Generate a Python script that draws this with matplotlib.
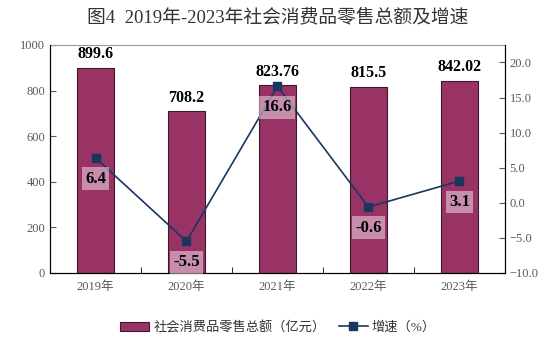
import matplotlib.pyplot as plt
import numpy as np

plt.rcParams["font.family"] = ["Liberation Serif", "Noto Sans CJK SC", "DejaVu Sans"]

years = ["2019年", "2020年", "2021年", "2022年", "2023年"]
sales = [899.6, 708.2, 823.76, 815.5, 842.02]
sales_labels = ["899.6", "708.2", "823.76", "815.5", "842.02"]
growth = [6.4, -5.5, 16.6, -0.6, 3.1]

bar_color = "#993366"
line_color = "#17375e"
tick_color = "#595959"

fig = plt.figure(figsize=(5.56, 3.54), dpi=100)
ax = fig.add_axes([0.090, 0.229, 0.818, 0.644])
x = np.arange(len(years))

ax.bar(x, sales, width=0.4, color=bar_color, edgecolor="#3a1a2a", linewidth=0.8,
       label="社会消费品零售总额（亿元）", zorder=2)
for xi, v, s in zip(x, sales, sales_labels):
    ax.annotate(s, (xi, v), xytext=(0, 4), textcoords="offset points",
                ha="center", va="bottom", fontsize=11.5, fontweight="bold")

ax.set_xlim(-0.5, len(years) - 0.5)
ax.set_ylim(0, 1000)
ax.set_yticks(range(0, 1001, 200))
ax.set_xticks(x)
ax.set_xticklabels(years)
ax.set_xticks(np.arange(-0.5, len(years)), minor=True)
ax.tick_params(axis="x", which="major", length=0, colors=tick_color, labelsize=9, pad=6)
ax.tick_params(axis="x", which="minor", direction="in", length=4)
ax.tick_params(axis="y", direction="in", length=4, colors=tick_color, labelsize=9)
for t in ax.get_yticklines():
    t.set_color("black")
ax.spines["top"].set_color("#999999")

ax2 = ax.twinx()
ax2.plot(x, growth, color=line_color, marker="s", markersize=6, linewidth=1.2,
         label="增速（%）", zorder=3)
ax2.set_ylim(-10, 22.5)
ax2.set_yticks(np.arange(-10, 21, 5))
ax2.set_yticklabels([f"{v:.1f}".replace("-", "−") for v in np.arange(-10, 21, 5)])
ax2.tick_params(axis="y", direction="in", length=4, colors=tick_color, labelsize=9)
for t in ax2.get_yticklines():
    t.set_color("black")
ax2.spines["top"].set_visible(False)
for xi, g in zip(x, growth):
    ax2.annotate(f"{g}", (xi, g), xytext=(0, -15), textcoords="offset points",
                 ha="center", va="center", fontsize=12, fontweight="bold",
                 bbox=dict(boxstyle="square,pad=0.2", facecolor="white",
                           edgecolor="none", alpha=0.45), zorder=4)

fig.suptitle("图4  2019年-2023年社会消费品零售总额及增速", y=0.975, fontsize=13.5,
             color="#333333")

h1, l1 = ax.get_legend_handles_labels()
h2, l2 = ax2.get_legend_handles_labels()
fig.legend(h1 + h2, l1 + l2, loc="center", bbox_to_anchor=(0.5, 0.075), ncol=2,
           frameon=False, fontsize=9.5, handlelength=2.2, columnspacing=1.0,
           handletextpad=0.3, labelcolor="#333333")

fig.savefig("out.png", dpi=100)
